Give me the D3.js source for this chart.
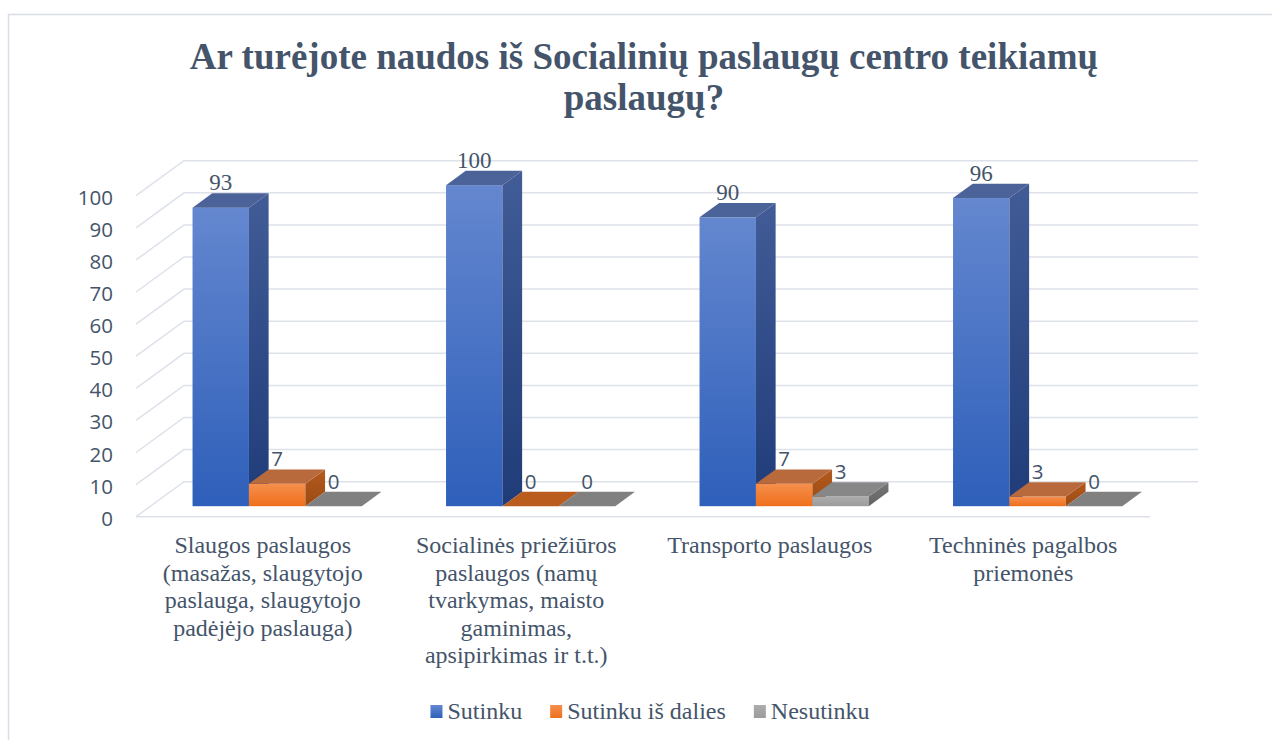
<!DOCTYPE html>
<html>
<head>
<meta charset="utf-8">
<script src="https://cdn.jsdelivr.net/npm/d3@7"></script>
<style>
  body { margin: 0; background: #fff; }
  svg { display: block; }
</style>
</head>
<body>
<script>
// 3D clustered column chart, drawn as oblique projection

const width = 1272, height = 740;

const categories = [
    ["Slaugos paslaugos", "(masažas, slaugytojo", "paslauga, slaugytojo", "padėjėjo paslauga)"],
    ["Socialinės priežiūros", "paslaugos (namų", "tvarkymas, maisto", "gaminimas,", "apsipirkimas ir t.t.)"],
    ["Transporto paslaugos"],
    ["Techninės pagalbos", "priemonės"]
];
const seriesNames = ["Sutinku", "Sutinku iš dalies", "Nesutinku"];
const sutinku = [93, 100, 90, 96];
const isDalies = [7, 0, 7, 3];
const nesutinku = [0, 0, 3, 0];
const yTicks = [0, 10, 20, 30, 40, 50, 60, 70, 80, 90, 100];

const values = [sutinku, isDalies, nesutinku];
const textColor = "#44546a";

const SERIF = `"Liberation Serif", "Times New Roman", serif`;
const SANS = `"Open Sans", "Liberation Sans", sans-serif`;

// colours for each series: front gradient, side gradient, top, top when value is 0
const palette = [
    { front: ["#6487cf", "#2e5fba"], side: ["#415c97", "#1f3c79"], top: "#4b6399", zero: "#4b6399" },
    { front: ["#f68f4d", "#ee6f1b"], side: ["#b35a1f", "#9c4a12"], top: "#b96a3c", zero: "#bb5c1f" },
    { front: ["#acacac", "#9c9c9c"], side: ["#767676", "#636363"], top: "#878787", zero: "#808080" }
];

const svg = d3.select("body").append("svg")
    .attr("width", width)
    .attr("height", height);

const defs = svg.append("defs");
palette.forEach((p, i) => {
    ["front", "side"].forEach(k => {
        const g = defs.append("linearGradient")
            .attr("id", `g-${k}-${i}`)
            .attr("x1", 0).attr("y1", 0).attr("x2", 0).attr("y2", 1);
        g.append("stop").attr("offset", "0%").attr("stop-color", p[k][0]);
        g.append("stop").attr("offset", "100%").attr("stop-color", p[k][1]);
    });
});

// chart border
svg.append("rect")
    .attr("x", 8.5).attr("y", 14.5)
    .attr("width", 1400).attr("height", 800)
    .attr("fill", "none")
    .attr("stroke", "#d9dde6")
    .attr("stroke-width", 1.5);

// title
svg.append("text")
    .style("font-family", SERIF)
    .attr("text-anchor", "middle")
    .attr("font-weight", "bold")
    .attr("font-size", 37)
    .attr("fill", textColor)
    .selectAll("tspan")
    .data(["Ar turėjote naudos iš Socialinių paslaugų centro teikiamų", "paslaugų?"])
    .enter().append("tspan")
    .attr("x", 644)
    .attr("y", (d, i) => 69 + i * 41)
    .text(d => d);

// projection
const Y0 = 516.7, DX = 48, DY = 35;
const x = d3.scaleBand().domain(d3.range(categories.length)).range([136, 1150]);
const xs = d3.scaleBand().domain(d3.range(seriesNames.length)).range([0, x.bandwidth()]).paddingOuter(0.747);
const y = d3.scaleLinear().domain([0, 100]).range([0, 321]);
const P = (px, v, d) => [px + DX * d, Y0 - y(v) - DY * d];
const pts = arr => arr.map(p => p.join(",")).join(" ");

// gridlines: back wall and left wall
const grid = svg.append("g").attr("stroke", "#dde1ea").attr("stroke-width", 1.5).attr("fill", "none");
yTicks.forEach(t => {
    grid.append("polyline")
        .attr("points", pts([P(136, t, 0), P(136, t, 1), P(1150, t, 1)]));
});
grid.append("line")
    .attr("x1", P(136, 0, 0)[0]).attr("y1", P(136, 0, 0)[1])
    .attr("x2", P(1150, 0, 0)[0]).attr("y2", P(1150, 0, 0)[1]);

// y axis labels
svg.append("g")
    .style("font-family", SANS)
    .attr("font-size", 20.5)
    .attr("fill", textColor)
    .attr("text-anchor", "end")
    .selectAll("text")
    .data(yTicks)
    .enter().append("text")
    .attr("x", 113)
    .attr("y", d => Y0 - y(d) + 9)
    .text(d => d);

// bars
const D1 = 0.3, D2 = 0.71;
const bars = svg.append("g");
categories.forEach((c, ci) => {
    values.forEach((vals, si) => {
        const v = vals[ci];
        const x0 = x(ci) + xs(si), x1 = x0 + xs.bandwidth();
        const p = palette[si];
        const g = bars.append("g");
        if (v > 0) {
            const f0 = P(x0, v, D1), f1 = P(x1, 0, D1);
            g.append("rect")
                .attr("x", f0[0]).attr("y", f0[1])
                .attr("width", f1[0] - f0[0]).attr("height", f1[1] - f0[1])
                .attr("fill", `url(#g-front-${si})`);
            g.append("polygon")
                .attr("points", pts([P(x1, 0, D1), P(x1, v, D1), P(x1, v, D2), P(x1, 0, D2)]))
                .attr("fill", `url(#g-side-${si})`);
        }
        g.append("polygon")
            .attr("points", pts([P(x0, v, D1), P(x1, v, D1), P(x1, v, D2), P(x0, v, D2)]))
            .attr("fill", v > 0 ? p.top : p.zero);
    });
});

// data labels
categories.forEach((c, ci) => {
    values.forEach((vals, si) => {
        const v = vals[ci];
        const cx = x(ci) + xs(si) + xs.bandwidth() / 2 + DX * D1;
        const ty = P(0, v, D2)[1] - 3;
        svg.append("text")
            .style("font-family", si === 0 ? SERIF : SANS)
            .attr("x", cx)
            .attr("y", ty)
            .attr("text-anchor", "middle")
            .attr("font-size", si === 0 ? 23 : 20.5)
            .attr("fill", textColor)
            .text(v);
    });
});

// category labels
const catLabels = svg.append("g")
    .style("font-family", SERIF)
    .attr("font-size", 24)
    .attr("fill", textColor)
    .attr("text-anchor", "middle");
categories.forEach((lines, ci) => {
    const t = catLabels.append("text");
    lines.forEach((l, li) => {
        t.append("tspan")
            .attr("x", x(ci) + x.bandwidth() / 2)
            .attr("y", 553 + li * 27.5)
            .text(l);
    });
});

// legend
const legend = svg.append("g")
    .style("font-family", SERIF)
    .attr("font-size", 24)
    .attr("fill", textColor);
const items = seriesNames.map((name, i) => {
    const g = legend.append("g");
    g.append("rect").attr("x", 0).attr("y", -14).attr("width", 12).attr("height", 13)
        .attr("fill", `url(#g-front-${i})`);
    const t = g.append("text").attr("x", 17).attr("y", 0).text(name);
    return { g, w: 17 + t.node().getComputedTextLength() };
});
const gap = 28;
const total = d3.sum(items, d => d.w) + gap * (items.length - 1);
let lx = 650 - total / 2;
items.forEach(it => {
    it.g.attr("transform", `translate(${lx},719)`);
    lx += it.w + gap;
});
</script>
</body>
</html>
